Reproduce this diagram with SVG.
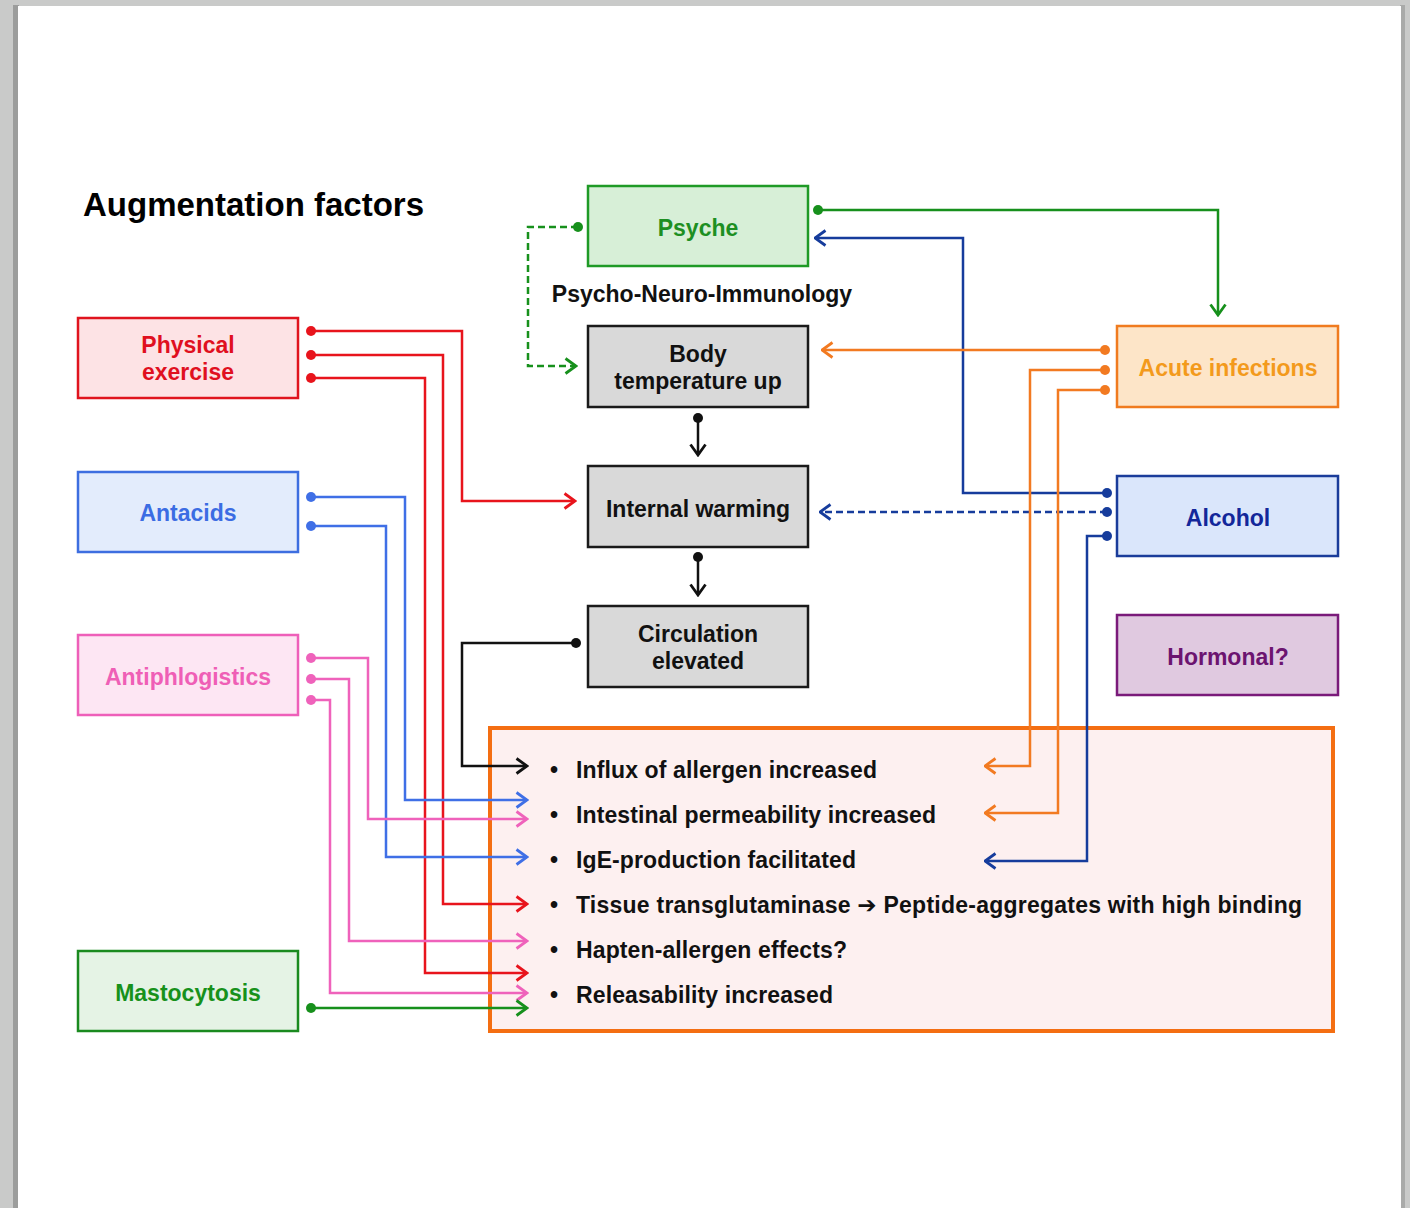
<svg xmlns="http://www.w3.org/2000/svg" width="1410" height="1208" viewBox="0 0 1410 1208">
<style>
text{font-family:"Liberation Sans",Arial,sans-serif;font-weight:bold;font-size:23px;}
.c{text-anchor:middle;}
.box{stroke-width:2.5;}
.ln{fill:none;stroke-width:2.5;}
.arr{font-family:"DejaVu Sans","Liberation Sans",sans-serif;}
</style>
<defs>
<marker id="a-red" viewBox="0 0 14 18" refX="12.5" refY="9" markerWidth="14" markerHeight="18" orient="auto" markerUnits="userSpaceOnUse"><path d="M2,1.5 L12.5,9 L2,16.5" fill="none" stroke="#e8141c" stroke-width="2.8"/></marker>
<marker id="a-blue" viewBox="0 0 14 18" refX="12.5" refY="9" markerWidth="14" markerHeight="18" orient="auto" markerUnits="userSpaceOnUse"><path d="M2,1.5 L12.5,9 L2,16.5" fill="none" stroke="#3f6fe6" stroke-width="2.8"/></marker>
<marker id="a-pink" viewBox="0 0 14 18" refX="12.5" refY="9" markerWidth="14" markerHeight="18" orient="auto" markerUnits="userSpaceOnUse"><path d="M2,1.5 L12.5,9 L2,16.5" fill="none" stroke="#ef62bb" stroke-width="2.8"/></marker>
<marker id="a-green" viewBox="0 0 14 18" refX="12.5" refY="9" markerWidth="14" markerHeight="18" orient="auto" markerUnits="userSpaceOnUse"><path d="M2,1.5 L12.5,9 L2,16.5" fill="none" stroke="#17901c" stroke-width="2.8"/></marker>
<marker id="a-black" viewBox="0 0 14 18" refX="12.5" refY="9" markerWidth="14" markerHeight="18" orient="auto" markerUnits="userSpaceOnUse"><path d="M2,1.5 L12.5,9 L2,16.5" fill="none" stroke="#111" stroke-width="2.8"/></marker>
<marker id="a-navy" viewBox="0 0 14 18" refX="12.5" refY="9" markerWidth="14" markerHeight="18" orient="auto" markerUnits="userSpaceOnUse"><path d="M2,1.5 L12.5,9 L2,16.5" fill="none" stroke="#163c9c" stroke-width="2.8"/></marker>
<marker id="a-orange" viewBox="0 0 14 18" refX="12.5" refY="9" markerWidth="14" markerHeight="18" orient="auto" markerUnits="userSpaceOnUse"><path d="M2,1.5 L12.5,9 L2,16.5" fill="none" stroke="#f27a21" stroke-width="2.8"/></marker>
<marker id="d-red" viewBox="0 0 12 12" refX="6" refY="6" markerWidth="12" markerHeight="12" markerUnits="userSpaceOnUse"><circle cx="6" cy="6" r="5" fill="#e8141c"/></marker>
<marker id="d-blue" viewBox="0 0 12 12" refX="6" refY="6" markerWidth="12" markerHeight="12" markerUnits="userSpaceOnUse"><circle cx="6" cy="6" r="5" fill="#3f6fe6"/></marker>
<marker id="d-pink" viewBox="0 0 12 12" refX="6" refY="6" markerWidth="12" markerHeight="12" markerUnits="userSpaceOnUse"><circle cx="6" cy="6" r="5" fill="#ef62bb"/></marker>
<marker id="d-green" viewBox="0 0 12 12" refX="6" refY="6" markerWidth="12" markerHeight="12" markerUnits="userSpaceOnUse"><circle cx="6" cy="6" r="5" fill="#17901c"/></marker>
<marker id="d-black" viewBox="0 0 12 12" refX="6" refY="6" markerWidth="12" markerHeight="12" markerUnits="userSpaceOnUse"><circle cx="6" cy="6" r="5" fill="#111"/></marker>
<marker id="d-navy" viewBox="0 0 12 12" refX="6" refY="6" markerWidth="12" markerHeight="12" markerUnits="userSpaceOnUse"><circle cx="6" cy="6" r="5" fill="#163c9c"/></marker>
<marker id="d-orange" viewBox="0 0 12 12" refX="6" refY="6" markerWidth="12" markerHeight="12" markerUnits="userSpaceOnUse"><circle cx="6" cy="6" r="5" fill="#f27a21"/></marker>
</defs>

<g id="page">
<rect x="0" y="0" width="1410" height="1208" fill="#c9cac9"/>
<rect x="13" y="5" width="6" height="1203" fill="#9c9d9c"/>
<rect x="1400" y="5" width="5" height="1203" fill="#a9aaa9"/>
<rect x="18" y="6" width="1383" height="1202" fill="#ffffff"/>
</g>

<text id="title" x="83" y="216" style="font-size:33px">Augmentation factors</text>

<g id="effects">
<rect x="490" y="728" width="843" height="303" fill="#fdf0f0" stroke="#f46e12" stroke-width="4"/>
<g fill="#111">
<text x="550" y="778">•</text><text x="576" y="778" textLength="301" lengthAdjust="spacing">Influx of allergen increased</text>
<text x="550" y="823">•</text><text x="576" y="823" textLength="360" lengthAdjust="spacing">Intestinal permeability increased</text>
<text x="550" y="868">•</text><text x="576" y="868" textLength="280" lengthAdjust="spacing">IgE-production facilitated</text>
<text x="550" y="913">•</text><text x="576" y="913" textLength="726" lengthAdjust="spacing">Tissue transglutaminase <tspan class="arr">➔</tspan> Peptide-aggregates with high binding</text>
<text x="550" y="958">•</text><text x="576" y="958" textLength="271" lengthAdjust="spacing">Hapten-allergen effects?</text>
<text x="550" y="1003">•</text><text x="576" y="1003" textLength="257" lengthAdjust="spacing">Releasability increased</text>
</g>
</g>

<g id="connectors">
<polyline class="ln" stroke="#e8141c" points="311,331 462,331 462,501 575,501" marker-start="url(#d-red)" marker-end="url(#a-red)"/>
<polyline class="ln" stroke="#e8141c" points="311,355 443,355 443,904 527,904" marker-start="url(#d-red)" marker-end="url(#a-red)"/>
<polyline class="ln" stroke="#e8141c" points="311,378 425,378 425,973 527,973" marker-start="url(#d-red)" marker-end="url(#a-red)"/>
<polyline class="ln" stroke="#3f6fe6" points="311,497 405,497 405,800 527,800" marker-start="url(#d-blue)" marker-end="url(#a-blue)"/>
<polyline class="ln" stroke="#3f6fe6" points="311,526 386,526 386,857 527,857" marker-start="url(#d-blue)" marker-end="url(#a-blue)"/>
<polyline class="ln" stroke="#ef62bb" points="311,658 368,658 368,819 527,819" marker-start="url(#d-pink)" marker-end="url(#a-pink)"/>
<polyline class="ln" stroke="#ef62bb" points="311,679 349,679 349,941 527,941" marker-start="url(#d-pink)" marker-end="url(#a-pink)"/>
<polyline class="ln" stroke="#ef62bb" points="311,700 330,700 330,993 527,993" marker-start="url(#d-pink)" marker-end="url(#a-pink)"/>
<polyline class="ln" stroke="#17901c" points="311,1008 527,1008" marker-start="url(#d-green)" marker-end="url(#a-green)"/>
<polyline class="ln" stroke="#111" points="576,643 462,643 462,766 527,766" marker-start="url(#d-black)" marker-end="url(#a-black)"/>
<polyline class="ln" stroke="#111" points="698,418 698,455" marker-start="url(#d-black)" marker-end="url(#a-black)"/>
<polyline class="ln" stroke="#111" points="698,557 698,595" marker-start="url(#d-black)" marker-end="url(#a-black)"/>
<polyline class="ln" stroke="#17901c" stroke-dasharray="7,4" points="578,227 528,227 528,366 576,366" marker-start="url(#d-green)" marker-end="url(#a-green)"/>
<polyline class="ln" stroke="#17901c" points="818,210 1218,210 1218,315" marker-start="url(#d-green)" marker-end="url(#a-green)"/>
<polyline class="ln" stroke="#163c9c" points="1107,493 963,493 963,238 815,238" marker-start="url(#d-navy)" marker-end="url(#a-navy)"/>
<polyline class="ln" stroke="#163c9c" stroke-dasharray="7,4" points="1107,512 820,512" marker-start="url(#d-navy)" marker-end="url(#a-navy)"/>
<polyline class="ln" stroke="#163c9c" points="1107,536 1087,536 1087,861 985,861" marker-start="url(#d-navy)" marker-end="url(#a-navy)"/>
<polyline class="ln" stroke="#f27a21" points="1105,350 822,350" marker-start="url(#d-orange)" marker-end="url(#a-orange)"/>
<polyline class="ln" stroke="#f27a21" points="1105,370 1030,370 1030,766 985,766" marker-start="url(#d-orange)" marker-end="url(#a-orange)"/>
<polyline class="ln" stroke="#f27a21" points="1105,390 1058,390 1058,813 985,813" marker-start="url(#d-orange)" marker-end="url(#a-orange)"/>
</g>

<g id="physical">
<rect class="box" x="78" y="318" width="220" height="80" fill="#fde3e5" stroke="#e0141e"/>
<text class="c" x="188" y="353" fill="#e0101f">Physical</text>
<text class="c" x="188" y="380" fill="#e0101f">exercise</text>
</g>
<g id="antacids">
<rect class="box" x="78" y="472" width="220" height="80" fill="#e3ecfc" stroke="#3d6ee0"/>
<text class="c" x="188" y="521" fill="#3b6ce3">Antacids</text>
</g>
<g id="antiphlogistics">
<rect class="box" x="78" y="635" width="220" height="80" fill="#fde6f3" stroke="#ee5fb9"/>
<text class="c" x="188" y="685" fill="#ef5fb6">Antiphlogistics</text>
</g>
<g id="mastocytosis">
<rect class="box" x="78" y="951" width="220" height="80" fill="#e5f3e5" stroke="#1a8a1f"/>
<text class="c" x="188" y="1001" fill="#17911b">Mastocytosis</text>
</g>

<g id="psyche">
<rect class="box" x="588" y="186" width="220" height="80" fill="#d7efd7" stroke="#1f9a26"/>
<text class="c" x="698" y="236" fill="#1d8f22">Psyche</text>
</g>
<text id="pni" class="c" x="702" y="302" fill="#111">Psycho-Neuro-Immunology</text>
<g id="bodytemp">
<rect class="box" x="588" y="326" width="220" height="81" fill="#d9d9d9" stroke="#1a1a1a"/>
<text class="c" x="698" y="362" fill="#111">Body</text>
<text class="c" x="698" y="389" fill="#111">temperature up</text>
</g>
<g id="warming">
<rect class="box" x="588" y="466" width="220" height="81" fill="#d9d9d9" stroke="#1a1a1a"/>
<text class="c" x="698" y="517" fill="#111">Internal warming</text>
</g>
<g id="circulation">
<rect class="box" x="588" y="606" width="220" height="81" fill="#d9d9d9" stroke="#1a1a1a"/>
<text class="c" x="698" y="642" fill="#111">Circulation</text>
<text class="c" x="698" y="669" fill="#111">elevated</text>
</g>

<g id="infections">
<rect class="box" x="1117" y="326" width="221" height="81" fill="#fde5c8" stroke="#f07b1f"/>
<text class="c" x="1228" y="376" fill="#f39a1c">Acute infections</text>
</g>
<g id="alcohol">
<rect class="box" x="1117" y="476" width="221" height="80" fill="#dae6fb" stroke="#1a3c9a"/>
<text class="c" x="1228" y="526" fill="#13279a">Alcohol</text>
</g>
<g id="hormonal">
<rect class="box" x="1117" y="615" width="221" height="80" fill="#e0c9e0" stroke="#7a1a7a"/>
<text class="c" x="1228" y="665" fill="#6c1470">Hormonal?</text>
</g>
</svg>
